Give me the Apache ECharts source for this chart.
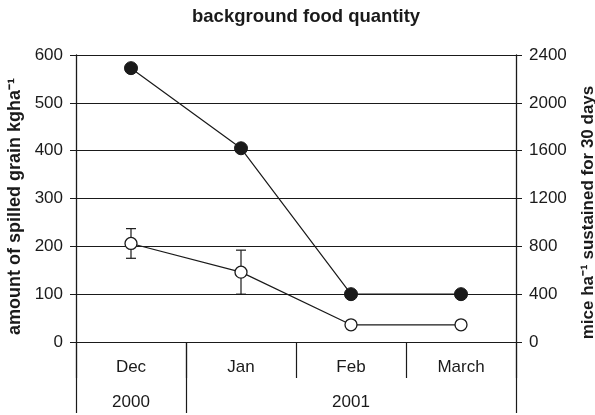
<!DOCTYPE html>
<html>
<head>
<meta charset="utf-8">
<script src="https://cdn.jsdelivr.net/npm/echarts@6/dist/echarts.min.js"></script>
<style>
  html, body { margin: 0; padding: 0; background: #fff; }
  #chart { width: 595px; height: 415px; }
</style>
</head>
<body>
<div id="chart"></div>
<script>
// Months sampled and the year each falls in
var months = ['Dec', 'Jan', 'Feb', 'March'];
var years = ['2000', '', '2001', ''];

// Spilled grain (kg/ha), mean and standard error
var grain = [206, 146, 36, 36];
var grainErr = [31, 46, 0, 0];

// Mice per ha that the grain could sustain for 30 days
var mice = [2290, 1620, 400, 400];

var FONT = '"Liberation Sans", Arial, sans-serif';
var INK = '#1a1a1a';

var errData = grain.map(function (v, i) {
  return [i, v - grainErr[i], v + grainErr[i]];
});

var chart = echarts.init(document.getElementById('chart'), null, { renderer: 'canvas' });

chart.setOption({
  animation: false,
  backgroundColor: '#fff',
  textStyle: { fontFamily: FONT, color: INK },
  title: {
    text: 'background food quantity',
    left: 187,
    top: 2,
    textStyle: { fontFamily: FONT, fontSize: 18.5, fontWeight: 'bold', color: INK }
  },
  grid: { left: 76, right: 79, top: 55, bottom: 73, containLabel: false, outerBoundsMode: 'none' },
  xAxis: [
    {
      // month row: short separators between every month
      type: 'category',
      data: months,
      position: 'bottom',
      boundaryGap: true,
      axisLine: { show: true, lineStyle: { color: INK, width: 1.2 } },
      axisTick: { show: true, interval: 0, length: 36, lineStyle: { color: INK, width: 1.2 } },
      axisLabel: { interval: 0, margin: 17, fontSize: 17, color: INK, fontFamily: FONT },
      splitLine: { show: false }
    },
    {
      // year row: long separators only around 2000 and around 2001
      type: 'category',
      data: years,
      position: 'bottom',
      boundaryGap: true,
      axisLine: { show: false },
      axisTick: {
        show: true,
        length: 71,
        interval: function (index) { return index <= 1; },
        lineStyle: { color: INK, width: 1.2 }
      },
      axisLabel: { interval: 0, margin: 52, fontSize: 17, color: INK, fontFamily: FONT },
      splitLine: { show: false }
    }
  ],
  yAxis: [
    {
      type: 'value',
      position: 'left',
      min: 0,
      max: 600,
      interval: 100,
      name: 'amount of spilled grain kgha\u207B\u00B9',
      nameLocation: 'middle',
      nameGap: 49,
      nameTextStyle: { fontFamily: FONT, fontSize: 18, fontWeight: 'bold', color: INK, padding: [0, 16, 0, 0] },
      axisLine: { show: true, lineStyle: { color: INK, width: 1.3 } },
      axisTick: { show: true, length: 6, lineStyle: { color: INK, width: 1 } },
      axisLabel: { margin: 13, fontSize: 17, color: INK, fontFamily: FONT },
      splitLine: { show: true, lineStyle: { color: INK, width: 1 } }
    },
    {
      type: 'value',
      position: 'right',
      min: 0,
      max: 2400,
      interval: 400,
      name: 'mice ha\u207B\u00B9 sustained for 30 days',
      nameLocation: 'middle',
      nameGap: 64,
      nameTextStyle: { fontFamily: FONT, fontSize: 17, fontWeight: 'bold', color: INK, padding: [0, 28, 0, 0] },
      axisLine: { show: true, lineStyle: { color: INK, width: 1.3 } },
      axisTick: { show: true, length: 6, lineStyle: { color: INK, width: 1 } },
      axisLabel: {
        margin: 13, fontSize: 17, color: INK, fontFamily: FONT,
        formatter: function (v) { return String(v); }
      },
      splitLine: { show: false }
    }
  ],
  series: [
    {
      name: 'grain error',
      type: 'custom',
      xAxisIndex: 0,
      yAxisIndex: 0,
      z: 3,
      data: errData,
      renderItem: function (params, api) {
        var x = api.value(0);
        var lo = api.coord([x, api.value(1)]);
        var hi = api.coord([x, api.value(2)]);
        var cap = 5;
        var st = { stroke: INK, lineWidth: 1.2 };
        return {
          type: 'group',
          children: [
            { type: 'line', shape: { x1: lo[0], y1: lo[1], x2: hi[0], y2: hi[1] }, style: st },
            { type: 'line', shape: { x1: lo[0] - cap, y1: lo[1], x2: lo[0] + cap, y2: lo[1] }, style: st },
            { type: 'line', shape: { x1: hi[0] - cap, y1: hi[1], x2: hi[0] + cap, y2: hi[1] }, style: st }
          ]
        };
      }
    },
    {
      name: 'mice sustained',
      type: 'line',
      xAxisIndex: 0,
      yAxisIndex: 1,
      z: 4,
      data: mice,
      symbol: 'circle',
      symbolSize: 13,
      lineStyle: { color: INK, width: 1.2 },
      itemStyle: { color: INK, borderColor: INK, borderWidth: 1 }
    },
    {
      name: 'spilled grain',
      type: 'line',
      xAxisIndex: 0,
      yAxisIndex: 0,
      z: 5,
      data: grain,
      symbol: 'circle',
      symbolSize: 12,
      showAllSymbol: true,
      lineStyle: { color: INK, width: 1.2 },
      itemStyle: { color: '#fff', borderColor: INK, borderWidth: 1.3 }
    }
  ]
});
</script>
</body>
</html>
